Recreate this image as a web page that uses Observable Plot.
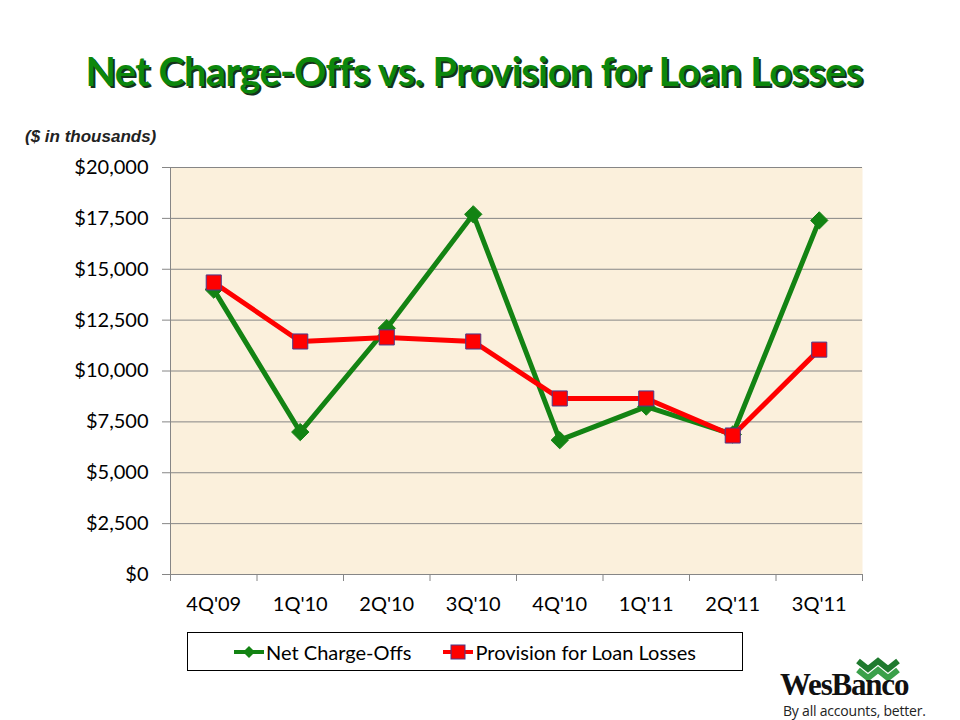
<!DOCTYPE html>
<html>
<head>
<meta charset="utf-8">
<script src="https://cdn.jsdelivr.net/npm/d3@7"></script>
<script src="https://cdn.jsdelivr.net/npm/@observablehq/plot@0.6"></script>
<style>
  html, body { margin: 0; padding: 0; background: #fff; }
  #page { position: relative; width: 960px; height: 720px; overflow: hidden; font-family: Lato, "Open Sans", sans-serif; }
  #title { position: absolute; left: 0; width: 948px; top: 47px; text-align: center; font-weight: bold; font-size: 39.5px; color: #0c870c; text-shadow: 2px 2px 0 #15331a; letter-spacing: -0.5px; }
  #units { position: absolute; left: 25px; top: 127px; font-family: "Liberation Sans", Arial, sans-serif; font-style: italic; font-weight: bold; font-size: 17px; color: #222; }
  #chart { position: absolute; left: 0; top: 0; }
  #legend { position: absolute; left: 187px; top: 632px; width: 554px; height: 37px; border: 1px solid #000; background: #fff; display: flex; align-items: center; justify-content: center; gap: 32px; font-size: 20px; color: #000; }
  .item { display: flex; align-items: center; gap: 2px; }
  #logo { position: absolute; left: 776px; top: 655px; width: 184px; height: 65px; }
</style>
</head>
<body>
<div id="page">
  <div id="title">Net Charge-Offs vs. Provision for Loan Losses</div>
  <div id="units">($ in thousands)</div>
  <div id="chart"></div>
  <div id="legend"></div>
  <div id="logo">
    <svg width="184" height="65" viewBox="0 0 184 65">
      <g fill="none" stroke-linejoin="miter">
        <polyline points="82,6 92,14 102,6 112,14 122,6" stroke="#1f7a2e" stroke-width="6"/>
        <polyline points="82,15 92,23 102,15 112,23 122,15" stroke="#3aa04a" stroke-width="6"/>
      </g>
      <text x="4" y="40" font-family="'Liberation Serif', 'DejaVu Serif', serif" font-weight="bold" font-size="31" fill="#111" letter-spacing="-1.2">WesBanco</text>
      <text x="7" y="61" font-family="'Open Sans', Lato, sans-serif" font-size="14" fill="#222" letter-spacing="-0.2">By all accounts, better.</text>
    </svg>
  </div>
</div>
<script>
const categories = ["4Q'09", "1Q'10", "2Q'10", "3Q'10", "4Q'10", "1Q'11", "2Q'11", "3Q'11"];
const netChargeOffs = [14000, 7000, 12100, 17700, 6600, 8250, 6880, 17400];
const provision = [14350, 11450, 11650, 11450, 8650, 8650, 6830, 11050];
const yTicks = [0, 2500, 5000, 7500, 10000, 12500, 15000, 17500, 20000];
const seriesNames = ["Net Charge-Offs", "Provision for Loan Losses"];

const green = "#138313";
const red = "#ff0000";

const nco = categories.map((c, i) => ({ i: i + 0.5, c, v: netChargeOffs[i] }));
const prov = categories.map((c, i) => ({ i: i + 0.5, c, v: provision[i] }));
const centers = categories.map((c, i) => i + 0.5);
const bounds = d3.range(categories.length + 1);

const chart = Plot.plot({
  width: 960,
  height: 620,
  marginLeft: 170,
  marginRight: 98,
  marginTop: 167,
  marginBottom: 46,
  style: { fontFamily: "Lato, 'Open Sans', sans-serif", fontSize: "20px", color: "#000", background: "transparent" },
  x: { type: "linear", domain: [0, categories.length] },
  y: { domain: [0, 20000] },
  marks: [
    Plot.frame({ fill: "#fbf0dc", stroke: null }),
    Plot.gridY(yTicks, { stroke: "#868686", strokeOpacity: 1, strokeWidth: 1 }),
    Plot.ruleX([0], { stroke: "#868686" }),
    Plot.ruleY([0], { stroke: "#868686" }),
    Plot.axisY({ ticks: yTicks, tickFormat: d => "$" + d3.format(",")(d), tickSize: 8, tickPadding: 14, stroke: "#868686", label: null, fill: "#000" }),
    Plot.axisX({ ticks: bounds, tickFormat: () => "", tickSize: 7, stroke: "#868686", label: null }),
    Plot.axisX({ ticks: centers, tickFormat: d => categories[Math.floor(d)], tickSize: 0, tickPadding: 22, label: null, fill: "#000" }),
    Plot.line(nco, { x: "i", y: "v", stroke: green, strokeWidth: 5 }),
    Plot.dot(nco, { x: "i", y: "v", symbol: "diamond2", r: 7.8, fill: green, stroke: green, strokeWidth: 1 }),
    Plot.line(prov, { x: "i", y: "v", stroke: red, strokeWidth: 5 }),
    Plot.dot(prov, { x: "i", y: "v", symbol: "square", r: 8.5, fill: red, stroke: "#4a3a8a", strokeWidth: 1 })
  ]
});
document.getElementById("chart").appendChild(chart);

// legend
const legend = document.getElementById("legend");
seriesNames.forEach((name, k) => {
  const item = document.createElement("div");
  item.className = "item";
  const marker = k === 0
    ? `<svg width="30" height="14"><line x1="0" y1="7" x2="30" y2="7" stroke="${green}" stroke-width="4"/><path d="M15,1 L21,7 L15,13 L9,7 Z" fill="${green}"/></svg>`
    : `<svg width="30" height="16"><line x1="0" y1="8" x2="30" y2="8" stroke="${red}" stroke-width="4"/><rect x="8" y="1" width="14" height="14" fill="${red}" stroke="#4a3a8a"/></svg>`;
  item.innerHTML = marker + `<span>${name}</span>`;
  legend.appendChild(item);
});
</script>
</body>
</html>
